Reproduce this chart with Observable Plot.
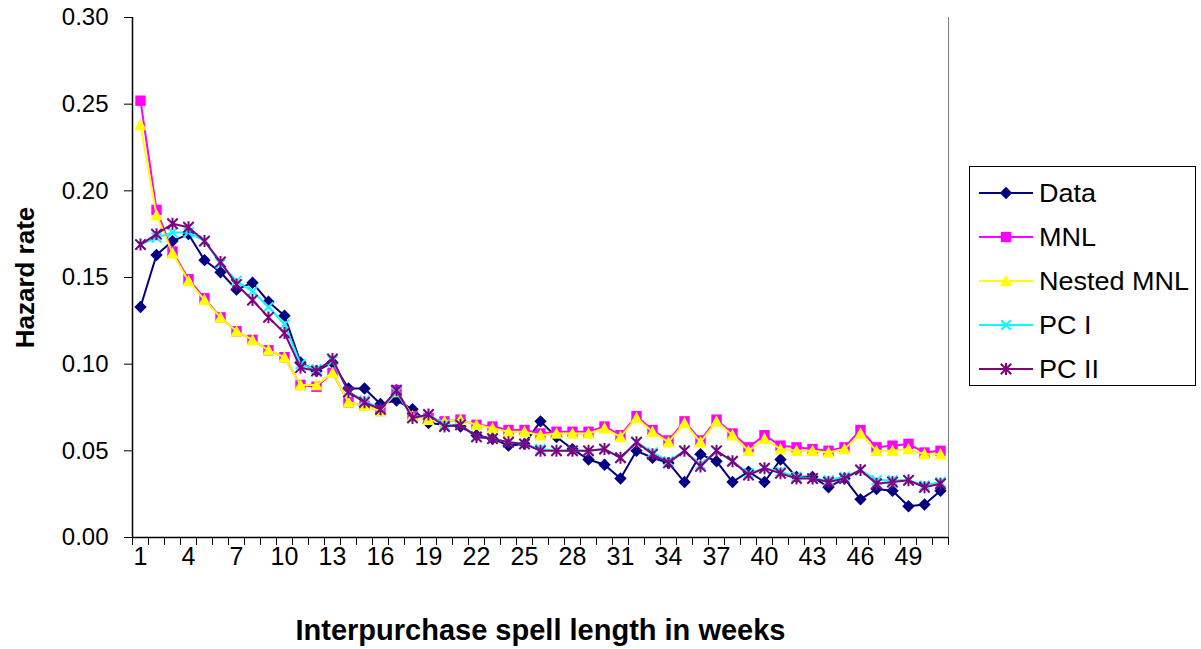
<!DOCTYPE html>
<html>
<head>
<meta charset="utf-8">
<script src="https://cdn.jsdelivr.net/npm/d3@7"></script>
<script src="https://cdn.jsdelivr.net/npm/@observablehq/plot@0.6"></script>
<style>
  html, body { margin: 0; padding: 0; background: #fff; }
  #wrap { position: relative; width: 1201px; height: 649px; font-family: "Liberation Sans", Arial, sans-serif; color: #000; }
  #legend { position: absolute; left: 969px; top: 166px; width: 227px; height: 220px; border: 1px solid #000; box-sizing: border-box; background: #fff; }
  .item { position: absolute; left: 8px; height: 30px; display: flex; align-items: center; font-size: 25px; white-space: nowrap; }
  .item svg { margin-right: 5px; flex: none; }
  .item span { display: inline-block; transform: scaleX(1.08); transform-origin: left center; }
</style>
</head>
<body>
<div id="wrap">
  <div id="chart"></div>
  <div id="legend"></div>
</div>
<script>
const weeks = [1,2,3,4,5,6,7,8,9,10,11,12,13,14,15,16,17,18,19,20,21,22,23,24,25,26,27,28,29,30,31,32,33,34,35,36,37,38,39,40,41,42,43,44,45,46,47,48,49,50,51];
const xTickLabels = [1,4,7,10,13,16,19,22,25,28,31,34,37,40,43,46,49];
const yTicks = [0, 0.05, 0.10, 0.15, 0.20, 0.25, 0.30];
const seriesNames = ["Data", "MNL", "Nested MNL", "PC I", "PC II"];
const seriesColors = ["#000080", "#FF00FF", "#FFFF00", "#00FFFF", "#800080"];

const dataValues = [0.133,0.163,0.171,0.175,0.160,0.153,0.143,0.147,0.136,0.128,0.101,0.096,0.101,0.086,0.086,0.077,0.079,0.074,0.066,0.065,0.064,0.059,0.057,0.053,0.054,0.067,0.058,0.051,0.045,0.042,0.034,0.050,0.046,0.043,0.032,0.048,0.044,0.032,0.038,0.032,0.045,0.035,0.035,0.029,0.034,0.022,0.028,0.027,0.018,0.019,0.027];
const mnlValues = [0.252,0.189,0.165,0.149,0.138,0.127,0.119,0.114,0.108,0.104,0.088,0.087,0.095,0.078,0.076,0.073,0.085,0.070,0.069,0.067,0.068,0.065,0.064,0.062,0.062,0.060,0.061,0.061,0.061,0.064,0.059,0.070,0.062,0.056,0.067,0.056,0.068,0.060,0.052,0.059,0.053,0.052,0.051,0.050,0.052,0.062,0.052,0.053,0.054,0.049,0.050];
const nestedValues = [0.238,0.186,0.164,0.148,0.137,0.127,0.119,0.114,0.108,0.104,0.088,0.088,0.095,0.078,0.076,0.073,0.084,0.070,0.068,0.067,0.068,0.065,0.063,0.061,0.061,0.059,0.060,0.060,0.060,0.063,0.058,0.069,0.061,0.055,0.066,0.055,0.067,0.059,0.050,0.057,0.051,0.050,0.050,0.049,0.051,0.060,0.050,0.050,0.051,0.048,0.048];
const pc1Values = [0.169,0.173,0.176,0.176,0.171,0.158,0.148,0.142,0.133,0.123,0.100,0.097,0.102,0.084,0.079,0.074,0.084,0.069,0.071,0.065,0.065,0.058,0.057,0.055,0.054,0.051,0.050,0.050,0.050,0.051,0.046,0.055,0.049,0.044,0.050,0.042,0.050,0.044,0.037,0.040,0.038,0.035,0.034,0.033,0.035,0.039,0.033,0.033,0.033,0.030,0.032];
const pc2Values = [0.169,0.175,0.181,0.179,0.171,0.159,0.146,0.137,0.127,0.118,0.098,0.096,0.103,0.084,0.078,0.074,0.085,0.069,0.071,0.064,0.065,0.058,0.057,0.055,0.054,0.050,0.050,0.050,0.050,0.051,0.046,0.055,0.048,0.043,0.050,0.041,0.050,0.044,0.036,0.040,0.037,0.034,0.034,0.032,0.034,0.039,0.031,0.032,0.033,0.029,0.031];

const allValues = [dataValues, mnlValues, nestedValues, pc1Values, pc2Values];

// custom Excel-like marker symbols
const rad = s => Math.sqrt(s / Math.PI);
const symDiamond = {draw(c, s) { const r = rad(s); c.moveTo(0, -r); c.lineTo(r, 0); c.lineTo(0, r); c.lineTo(-r, 0); c.closePath(); }};
const symSquare = {draw(c, s) { const r = rad(s); c.rect(-r, -r, 2 * r, 2 * r); }};
const symTriangle = {draw(c, s) { const r = rad(s); c.moveTo(0, -r); c.lineTo(r, r * 0.85); c.lineTo(-r, r * 0.85); c.closePath(); }};
const symTimes = {draw(c, s) { const r = rad(s); c.moveTo(-r, -r); c.lineTo(r, r); c.moveTo(r, -r); c.lineTo(-r, r); }};
const symStar = {draw(c, s) { const r = rad(s); c.moveTo(-r, -r); c.lineTo(r, r); c.moveTo(r, -r); c.lineTo(-r, r); c.moveTo(0, -r * 1.15); c.lineTo(0, r * 1.15); }};

const markers = [
  {symbol: symDiamond, r: 6.2, filled: true},
  {symbol: symSquare, r: 5.2, filled: true},
  {symbol: symTriangle, r: 6.2, filled: true},
  {symbol: symTimes, r: 4.8, filled: false},
  {symbol: symStar, r: 5.2, filled: false}
];

const seriesMarks = [];
seriesNames.forEach((name, i) => {
  const rows = weeks.map((w, j) => ({week: w, value: allValues[i][j]}));
  const m = markers[i];
  seriesMarks.push(Plot.line(rows, {x: "week", y: "value", stroke: seriesColors[i], strokeWidth: 2}));
  seriesMarks.push(Plot.dot(rows, {
    x: "week", y: "value", symbol: m.symbol, r: m.r,
    fill: m.filled ? seriesColors[i] : "none",
    stroke: m.filled ? "none" : seriesColors[i],
    strokeWidth: m.filled ? 0 : 2
  }));
});

const catEdges = weeks.map(w => w - 0.5).concat([weeks[weeks.length - 1] + 0.5]);

const chart = Plot.plot({
  width: 1201,
  height: 649,
  marginLeft: 132,
  marginRight: 253,
  marginTop: 17,
  marginBottom: 112,
  style: {fontFamily: "'Liberation Sans', Arial, sans-serif", color: "#000", background: "#fff"},
  x: {domain: [0.5, 51.5], axis: null},
  y: {domain: [0, 0.30], axis: null},
  marks: [
    Plot.ruleX([51.5], {stroke: "#808080", strokeWidth: 1}),
    Plot.axisY(yTicks, {tickSize: 8, tickPadding: 16, fontSize: 24, tickFormat: d3.format(".2f"), label: null, stroke: "#000"}),
    Plot.axisX(catEdges, {tickSize: 8, tickFormat: () => "", label: null, stroke: "#000"}),
    Plot.axisX(xTickLabels, {tickSize: 0, tickPadding: 10, fontSize: 25, label: null}),
    ...seriesMarks,
    Plot.ruleX([0.5], {stroke: "#000", strokeWidth: 1.5}),
    Plot.ruleY([0], {stroke: "#000", strokeWidth: 1.5}),
    Plot.text(["Hazard rate"], {frameAnchor: "left", dx: -107, rotate: -90, textAnchor: "middle", lineAnchor: "middle", fontWeight: "bold", fontSize: 26, fill: "#000"}),
    Plot.text(["Interpurchase spell length in weeks"], {frameAnchor: "bottom", dy: 93, textAnchor: "middle", lineAnchor: "middle", fontWeight: "bold", fontSize: 29, fill: "#000"})
  ]
});
document.getElementById("chart").appendChild(chart);

// Legend
const legend = document.getElementById("legend");
const rowCenters = [26, 70, 114, 158, 202];
seriesNames.forEach((name, i) => {
  const item = document.createElement("div");
  item.className = "item";
  item.style.top = (rowCenters[i] - 15) + "px";
  const svg = d3.create("svg").attr("width", 56).attr("height", 30);
  svg.append("line").attr("x1", 1).attr("x2", 55).attr("y1", 15).attr("y2", 15).attr("stroke", seriesColors[i]).attr("stroke-width", 2);
  const m = markers[i];
  const path = d3.path();
  m.symbol.draw(path, Math.PI * m.r * m.r);
  svg.append("path").attr("d", path.toString()).attr("transform", "translate(28,15)")
    .attr("fill", m.filled ? seriesColors[i] : "none")
    .attr("stroke", m.filled ? "none" : seriesColors[i])
    .attr("stroke-width", 2);
  item.appendChild(svg.node());
  const span = document.createElement("span");
  span.textContent = name;
  item.appendChild(span);
  legend.appendChild(item);
});
</script>
</body>
</html>
